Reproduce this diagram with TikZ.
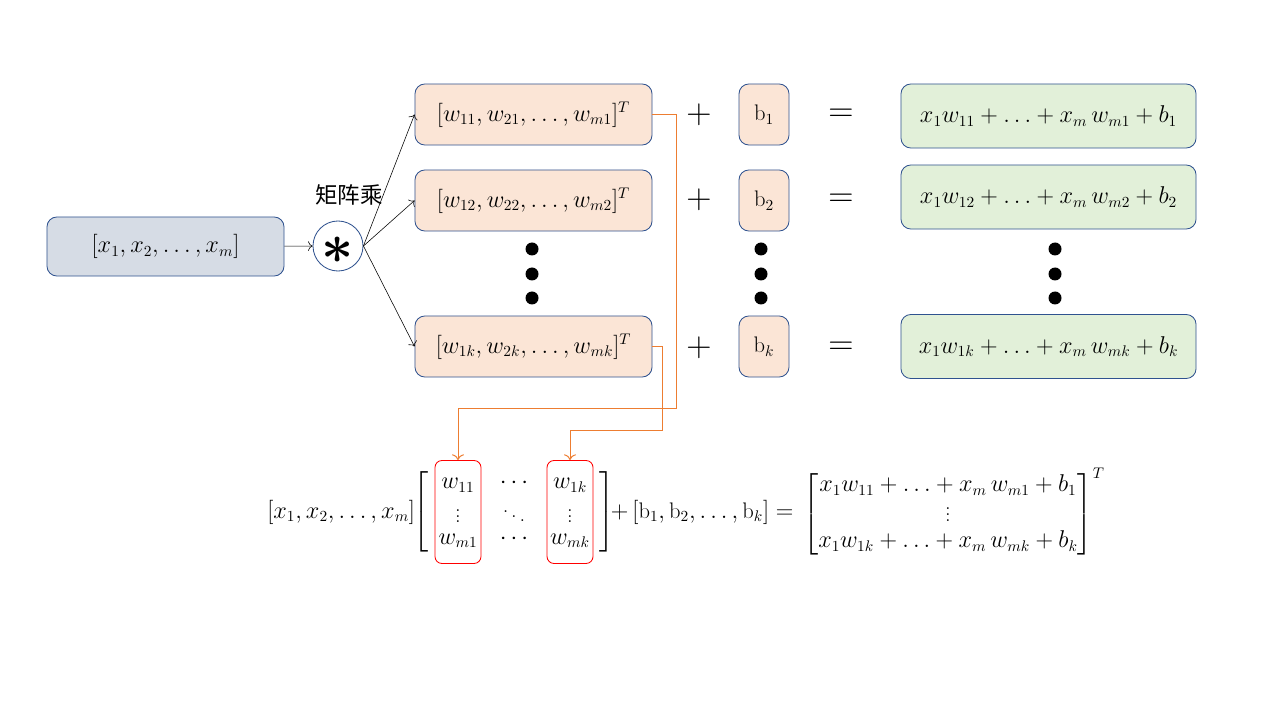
\documentclass[tikz,border=0pt]{standalone}
\usepackage{amsmath,amssymb,bm,graphicx}
\usepackage{fontspec}
\newfontfamily\cjk{Noto Sans CJK SC}
\usetikzlibrary{arrows.meta,positioning,matrix}

\definecolor{boxblue}{RGB}{47,82,143}
\definecolor{inputfill}{RGB}{214,220,229}
\definecolor{wfill}{RGB}{251,229,214}
\definecolor{outfill}{RGB}{226,240,217}
\definecolor{linkorange}{RGB}{237,125,49}

\begin{document}
\begin{tikzpicture}[
  x=0.025cm, y=-0.025cm,
  >={To[scale=1.3]},
  every node/.style={font=\fontsize{16}{19}\selectfont},
  inbox/.style={draw=boxblue, line width=0.6pt, fill=inputfill, rounded corners=7pt,
    minimum width=5.925cm, minimum height=1.475cm, inner sep=0pt},
  wbox/.style={inbox, fill=wfill, minimum height=1.525cm},
  bbox/.style={wbox, minimum width=1.25cm},
  outbox/.style={inbox, fill=outfill, minimum width=7.375cm, minimum height=1.6cm},
  opcirc/.style={circle, draw=boxblue, line width=0.6pt, fill=white, minimum size=1.25cm,
    inner sep=0pt},
  starmark/.style={inner sep=0pt, font=\fontsize{24}{24}\selectfont},
  bigop/.style={font=\fontsize{28}{30}\selectfont},
  redcol/.style={draw=red, line width=0.6pt, rounded corners=5pt,
    minimum width=1.15cm, minimum height=2.575cm, inner sep=0pt},
  link/.style={draw=linkorange, line width=0.7pt}
]
\useasboundingbox (0,0) rectangle (1280,720);

% Input and product
\node[inbox] (in) at (165.5,246.5) {$[x_1,x_2,\dots,x_m]$};
\node[opcirc] (mul) at (338,246) {};
\node[starmark] (mulsign) at (338,250) {\scalebox{1.6}{$\bm{\ast}$}};
\node (mullabel) at (349,195) {\cjk 矩阵乘};

% Weight columns
\node[wbox] (w1) at (533.5,114.5) {$[w_{11},w_{21},\dots,w_{m1}]^T$};
\node[wbox] (w2) at (533.5,200.5) {$[w_{12},w_{22},\dots,w_{m2}]^T$};
\node[wbox] (wk) at (533.5,346.5) {$[w_{1k},w_{2k},\dots,w_{mk}]^T$};

% Plus signs
\node[bigop] (p1) at (699,115) {$+$};
\node[bigop] (p2) at (699,200) {$+$};
\node[bigop] (pk) at (699,348) {$+$};

% Biases
\node[bbox] (b1) at (764,114.5) {$\mathrm{b}_1$};
\node[bbox] (b2) at (764,200.5) {$\mathrm{b}_2$};
\node[bbox] (bk) at (764,346.5) {$\mathrm{b}_k$};

% Equal signs
\node[bigop] (e1) at (841,115) {$=$};
\node[bigop] (e2) at (841,200) {$=$};
\node[bigop] (ek) at (841,348) {$=$};

% Outputs
\node[outbox] (o1) at (1048.5,116) {$x_1w_{11}+\ldots+x_m\,w_{m1}+b_1$};
\node[outbox] (o2) at (1048.5,197) {$x_1w_{12}+\ldots+x_m\,w_{m2}+b_2$};
\node[outbox] (ok) at (1048.5,346.5) {$x_1w_{1k}+\ldots+x_m\,w_{mk}+b_k$};

% Vertical dots
\foreach \cx in {532,761,1055}
  \foreach \cy in {249,274,298}
    \fill (\cx,\cy) circle (6.5);

% Arrows
\draw[->] (in) -- (mul);
\draw[->] (mul.east) -- (w1.west);
\draw[->] (mul.east) -- (w2.west);
\draw[->] (mul.east) -- (wk.west);

% Matrix form
\matrix (wmat) [matrix of math nodes, left delimiter={[}, right delimiter={]},
  every left delimiter/.style={xshift=0.15cm},
  every right delimiter/.style={xshift=-0.05cm},
  column sep=0.25cm, row sep=0.15cm,
  nodes={minimum width=1.15cm, minimum height=0.5cm, inner sep=0pt}] at (514,512) {
  w_{11} & \cdots & w_{1k} \\
  \vdots & \ddots & \vdots \\
  w_{m1} & \cdots & w_{mk} \\
};
\node (xvec) [left=0.25cm of wmat] {$[x_1,x_2,\dots,x_m]$};
\node (bvec) [right=0.2cm of wmat] {$+\,[\mathrm{b}_1,\mathrm{b}_2,\dots,\mathrm{b}_k]=$};
\node (res) [right=0pt of bvec] {$\begin{bmatrix}
  x_1w_{11}+\ldots+x_m\,w_{m1}+b_1\\
  \vdots\\
  x_1w_{1k}+\ldots+x_m\,w_{mk}+b_k
\end{bmatrix}^T$};

\node[redcol] (col1) at (wmat-2-1) {};
\node[redcol] (col2) at (wmat-2-3) {};

% Orange links
\coordinate (bend1) at (676,408);
\coordinate (bend2) at (662,430);
\draw[link,->] (w1.east) -| (bend1) -| (col1.north);
\draw[link,->] (wk.east) -| (bend2) -| (col2.north);

\end{tikzpicture}
\end{document}
